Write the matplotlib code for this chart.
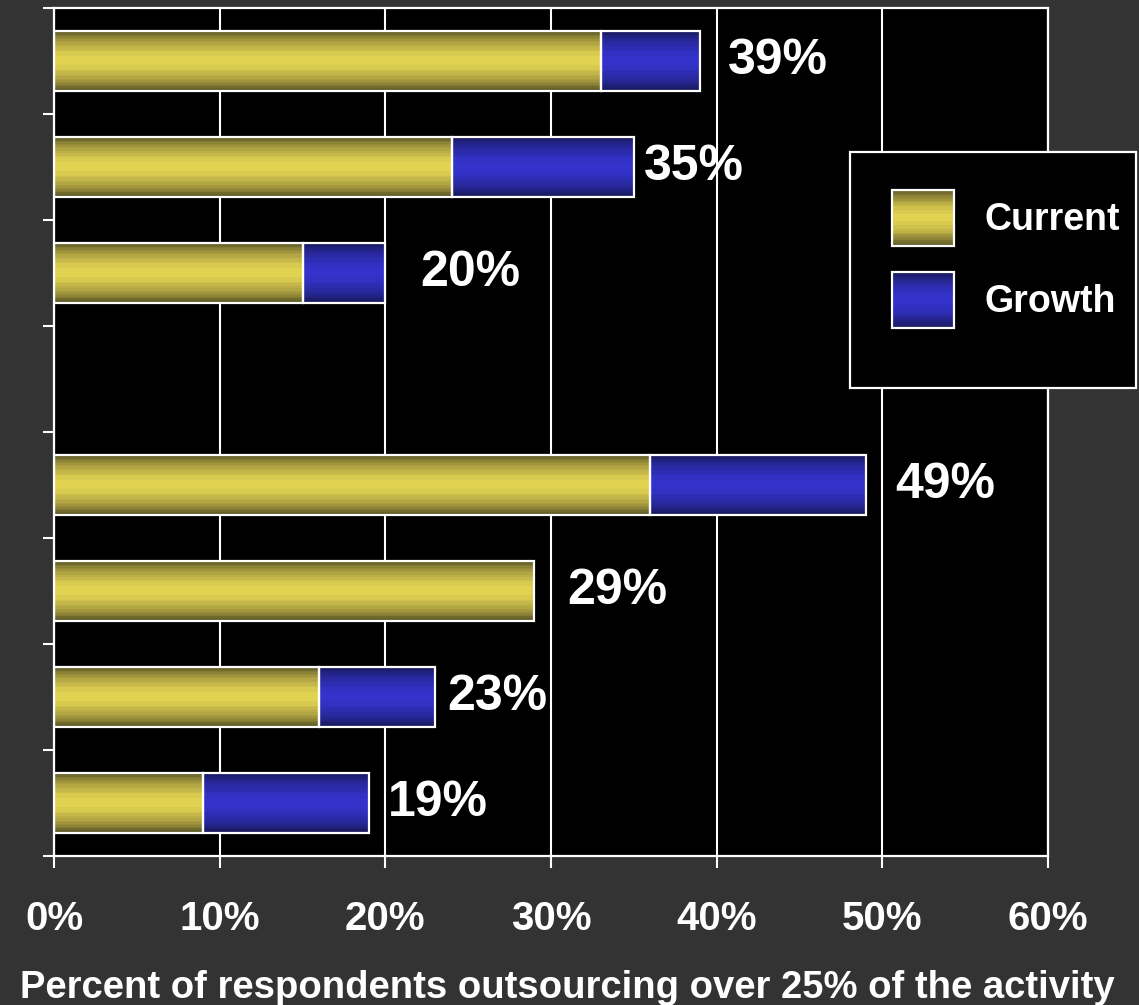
import numpy as np
import matplotlib
matplotlib.use("Agg")
import matplotlib.pyplot as plt
from matplotlib.patches import Rectangle
from matplotlib.legend_handler import HandlerBase

plt.rcParams['font.family'] = ['Liberation Sans', 'DejaVu Sans']
plt.rcParams['font.weight'] = 'bold'

# bar slots (slot 3 is left empty)
slots = [0, 1, 2, 4, 5, 6, 7]
current = [33, 24, 15, 36, 29, 16, 9]
growth = [6, 11, 5, 13, 0, 7, 10]
x_ticks = [0, 10, 20, 30, 40, 50, 60]
x_ticklabels = ['0%', '10%', '20%', '30%', '40%', '50%', '60%']
series_names = ['Current', 'Growth']

# label centre distance past the bar end, in points
label_pad = [56, 43, 61, 57, 60, 45, 50]

BG = '#333333'
W, H = 1139, 1005
YELLOW = (np.array([0x5e, 0x58, 0x28]) / 255, np.array([0xe2, 0xd2, 0x52]) / 255)
BLUE = (np.array([0x1a, 0x1a, 0x5e]) / 255, np.array([0x33, 0x33, 0xcc]) / 255)


def gradient(colors, n=40):
    # dark at the edges, bright in the middle, banded
    edge, mid = colors
    t = np.abs(np.linspace(-1, 1, n))
    w = 1 - t ** 1.8
    w = np.round(w * 14) / 14
    return edge[None, :] + (mid - edge)[None, :] * w[:, None]


class GradientHandler(HandlerBase):
    def __init__(self, colors):
        super().__init__()
        self.colors = colors

    def create_artists(self, legend, orig_handle, xdescent, ydescent,
                       width, height, fontsize, trans):
        g = gradient(self.colors, 30)
        n = len(g)
        arts = []
        for i, c in enumerate(g):
            r = Rectangle((-xdescent, -ydescent + height * (n - 1 - i) / n),
                          width, height / n + 0.3, facecolor=c,
                          edgecolor='none', transform=trans)
            arts.append(r)
        arts.append(Rectangle((-xdescent, -ydescent), width, height,
                              facecolor='none', edgecolor='white', lw=1.6,
                              transform=trans))
        return arts


fig = plt.figure(figsize=(W / 100, H / 100), dpi=100, facecolor=BG)
ax = fig.add_axes([54 / W, 1 - 856 / H, 994 / W, 848 / H])
ax.set_facecolor('black')

current = np.array(current)
growth = np.array(growth)
totals = current + growth

bars_c = ax.barh(slots, current, height=0.57, facecolor='none',
                 edgecolor='white', lw=1.6, zorder=3)
bars_g = ax.barh(slots, growth, left=current, height=0.57, facecolor='none',
                 edgecolor='white', lw=1.6, zorder=3)

for bars, cols in ((bars_c, YELLOW), (bars_g, BLUE)):
    for p in bars:
        if p.get_width() <= 0:
            p.set_visible(False)
            continue
        x0, y0 = p.get_x(), p.get_y()
        ax.imshow(gradient(cols)[:, None, :],
                  extent=[x0, x0 + p.get_width(), y0 + p.get_height(), y0],
                  aspect='auto', interpolation='nearest', zorder=2)

for s, tot, pad in zip(slots, totals, label_pad):
    ax.annotate(f'{tot}%', xy=(tot, s), xytext=(pad, 0),
                textcoords='offset points', ha='center', va='center',
                color='white', fontsize=36, fontweight='bold')

ax.set_xlim(0, 60)
ax.set_ylim(7.5, -0.5)
ax.set_aspect('auto')

ax.set_xticks(x_ticks)
ax.set_xticklabels(x_ticklabels)
ax.set_yticks(np.arange(-0.5, 8, 1))
ax.set_yticklabels([])
ax.tick_params(axis='x', colors='white', length=8.5, width=1.5,
               labelsize=29, pad=23)
ax.tick_params(axis='y', colors='white', length=8, width=1.5)
for lab in ax.get_xticklabels():
    lab.set_fontweight('bold')

ax.grid(axis='x', color='white', lw=1.5, zorder=1)
ax.set_axisbelow(True)
for sp in ax.spines.values():
    sp.set_color('white')
    sp.set_linewidth(1.6)

ax.set_xlabel('Percent of respondents outsourcing over 25% of the activity',
              color='white', fontsize=27.5, fontweight='bold')
ax.xaxis.set_label_coords(0.516, -0.134)

# legend box, drawn separately so its padding can be uneven
ax.add_patch(Rectangle((850 / W, 1 - 388 / H), 286 / W, 236 / H,
                       transform=fig.transFigure, facecolor='black',
                       edgecolor='white', lw=1.6, clip_on=False, zorder=4))

h1 = Rectangle((0, 0), 1, 1)
h2 = Rectangle((0, 0), 1, 1)
leg = ax.legend([h1, h2], series_names,
                handler_map={h1: GradientHandler(YELLOW), h2: GradientHandler(BLUE)},
                loc='upper left', bbox_to_anchor=(892 / W, 1 - 190 / H),
                bbox_transform=fig.transFigure, borderaxespad=0,
                fontsize=27, handlelength=1.65, handleheight=1.92,
                labelspacing=0.7, handletextpad=0.83, borderpad=0,
                frameon=False, labelcolor='white')
leg.set_zorder(5)
for t in leg.get_texts():
    t.set_fontweight('bold')

fig.savefig('out.png', dpi=100, facecolor=BG)
